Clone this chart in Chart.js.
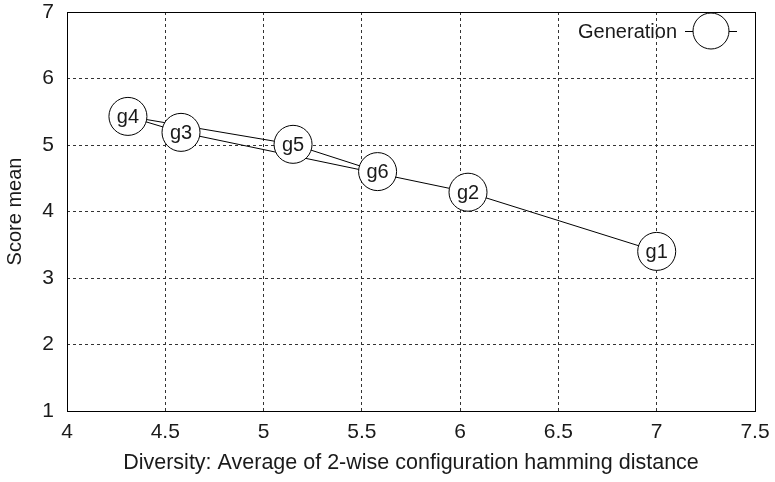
<!DOCTYPE html>
<html>
<head>
<meta charset="utf-8">
<script src="https://cdn.jsdelivr.net/npm/chart.js@4.4.1/dist/chart.umd.min.js"></script>
<style>
  html, body { margin: 0; padding: 0; background: #fff; }
  #wrap { width: 775px; height: 482px; }
</style>
</head>
<body>
<div id="wrap"><canvas id="c" width="775" height="482"></canvas></div>
<script>
// ---- data ----
const pointLabels = ["g1", "g2", "g3", "g4", "g5", "g6"];
const diversity = [7.00, 6.04, 4.58, 4.31, 5.15, 5.58];
const scoreMean = [3.40, 4.29, 5.19, 5.43, 5.01, 4.60];
const seriesName = "Generation";
const xTicks = [4, 4.5, 5, 5.5, 6, 6.5, 7, 7.5];
const yTicks = [1, 2, 3, 4, 5, 6, 7];
const xTitle = "Diversity: Average of 2-wise configuration hamming distance";
const yTitle = "Score mean";

const FONT = "'Liberation Sans', Arial, Helvetica, sans-serif";
const TXT = "#1a1a1a";

const points = diversity.map((x, i) => ({ x: x, y: scoreMean[i] }));

const frameAndLabels = {
  id: 'frameAndLabels',
  afterDatasetsDraw(chart) {
    const ctx = chart.ctx;
    const a = chart.chartArea;
    ctx.save();
    ctx.strokeStyle = '#000';
    ctx.lineWidth = 1;
    ctx.setLineDash([]);
    ctx.strokeRect(Math.round(a.left) + 0.5, Math.round(a.top) + 0.5,
                   Math.round(a.right - a.left), Math.round(a.bottom - a.top));
    // point labels
    const meta = chart.getDatasetMeta(0);
    ctx.fillStyle = TXT;
    ctx.font = "20px " + FONT;
    ctx.textAlign = 'center';
    ctx.textBaseline = 'middle';
    meta.data.forEach((el, i) => {
      ctx.fillText(pointLabels[i], el.x, el.y + 1);
    });
    // legend
    const ly = 31;
    const lx = 711;
    ctx.beginPath();
    ctx.moveTo(685, ly + 0.5);
    ctx.lineTo(737, ly + 0.5);
    ctx.stroke();
    ctx.beginPath();
    ctx.arc(lx, ly, 18, 0, Math.PI * 2);
    ctx.fillStyle = '#fff';
    ctx.fill();
    ctx.stroke();
    ctx.fillStyle = TXT;
    ctx.font = "20px " + FONT;
    ctx.textAlign = 'right';
    ctx.fillText(chart.data.datasets[0].label, 677, ly + 1);
    ctx.restore();
  }
};

new Chart(document.getElementById('c'), {
  type: 'scatter',
  data: {
    datasets: [{
      label: seriesName,
      data: points,
      showLine: true,
      borderColor: '#000',
      borderWidth: 1,
      pointRadius: 19,
      pointHoverRadius: 19,
      pointBackgroundColor: '#fff',
      pointBorderColor: '#000',
      pointBorderWidth: 1,
      tension: 0
    }]
  },
  options: {
    responsive: false,
    animation: false,
    events: [],
    layout: { autoPadding: false, padding: { top: 12, right: 20, left: 0, bottom: 0 } },
    plugins: {
      legend: { display: false },
      tooltip: { enabled: false }
    },
    scales: {
      x: {
        type: 'linear',
        min: 4, max: 7.5,
        afterBuildTicks(scale) { scale.ticks = xTicks.map(v => ({ value: v })); },
        afterFit(scale) {
          scale.height = 71;
          scale.paddingLeft = 0; scale.paddingRight = 0;
        },
        grid: {
          color: '#333',
          lineWidth: 1,
          drawTicks: false,
          tickLength: 0
        },
        border: { display: false, dash: [3, 3] },
        ticks: {
          color: TXT,
          font: { family: FONT, size: 21 },
          padding: 9,
          maxRotation: 0,
          callback: v => String(v)
        },
        title: {
          display: true,
          text: xTitle,
          color: TXT,
          font: { family: FONT, size: 21.5 },
          padding: { top: 0, bottom: 6 }
        }
      },
      y: {
        type: 'linear',
        min: 1, max: 7,
        afterBuildTicks(scale) { scale.ticks = yTicks.map(v => ({ value: v })); },
        afterFit(scale) {
          scale.width = 67;
          scale.paddingTop = 0; scale.paddingBottom = 0;
        },
        grid: {
          color: '#333',
          lineWidth: 1,
          drawTicks: false,
          tickLength: 0
        },
        border: { display: false, dash: [3, 3] },
        ticks: {
          color: TXT,
          font: { family: FONT, size: 21, lineHeight: 0.6 },
          padding: 13,
          callback: v => String(v)
        },
        title: {
          display: true,
          text: yTitle,
          color: TXT,
          font: { family: FONT, size: 20 },
          padding: { top: 3, bottom: 0 }
        }
      }
    }
  },
  plugins: [frameAndLabels]
});
</script>
</body>
</html>
